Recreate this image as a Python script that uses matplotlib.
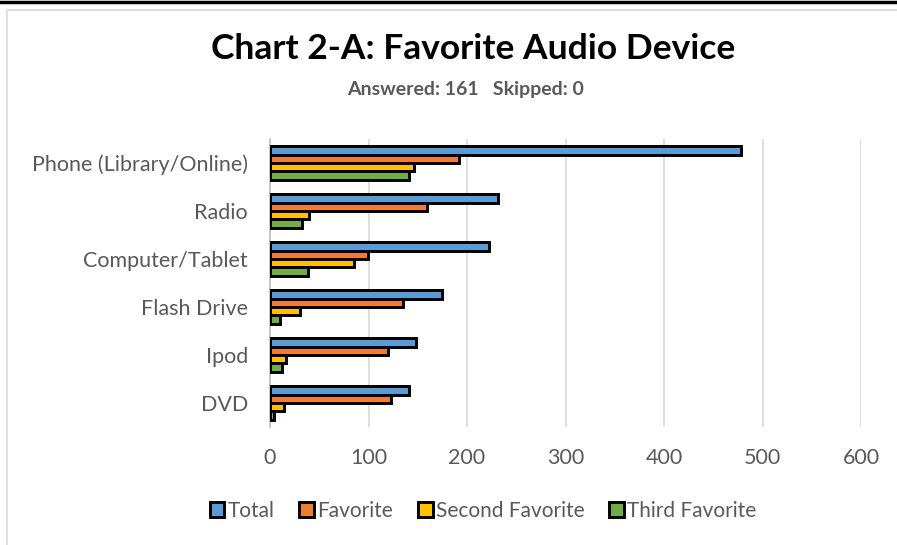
import numpy as np
import matplotlib
matplotlib.use('Agg')
import matplotlib.pyplot as plt
from matplotlib.patches import Rectangle
from matplotlib.lines import Line2D

plt.rcParams['font.family'] = ['Lato', 'DejaVu Sans']

# data
devices = ['Phone (Library/Online)', 'Radio', 'Computer/Tablet', 'Flash Drive', 'Ipod', 'DVD']
total = [478, 231, 222, 175, 148, 141]
favorite = [192, 159, 99, 135, 120, 123]
second = [146, 40, 85, 30, 16, 14]
third = [141, 32, 39, 10, 12, 4]
series_names = ['Total', 'Favorite', 'Second Favorite', 'Third Favorite']
colors = ['#5B9BD5', '#ED7D31', '#FFC000', '#70AD47']
x_ticks = [0, 100, 200, 300, 400, 500, 600]

W, H = 897, 545
fig = plt.figure(figsize=(W / 100, H / 100), dpi=100)

# frame decorations
fig.add_artist(Line2D([0, 1], [1 - 1.5 / H, 1 - 1.5 / H], color='black', lw=2.5,
                      transform=fig.transFigure))
fig.add_artist(Rectangle((6.5 / W, -0.05), 1.1, 1 - 9.5 / H + 0.05, fill=False,
                         edgecolor='#D9D9D9', lw=1.2, transform=fig.transFigure))

ax = fig.add_axes([270 / W, 1 - 427 / H, (861 - 270) / W, (427 - 139) / H])

y = np.arange(len(devices))
bh = 0.177
offsets = np.array([-1.5, -0.5, 0.5, 1.5]) * bh
for vals, name, c, off in zip([total, favorite, second, third], series_names, colors, offsets):
    ax.barh(y + off, vals, height=bh, color=c, edgecolor='black', linewidth=2.1,
            label=name, zorder=3)

ax.set_ylim(len(devices) - 0.5, -0.5)
ax.set_xlim(0, 600)
ax.set_xticks(x_ticks)
ax.set_yticks(y)
ax.set_yticklabels(devices)
ax.tick_params(axis='both', length=0, labelsize=15.5, labelcolor='#595959')
ax.tick_params(axis='x', pad=15)
ax.tick_params(axis='y', pad=16)
ax.grid(axis='x', color='#D9D9D9', lw=1.2, zorder=0)
for s in ['top', 'right', 'bottom']:
    ax.spines[s].set_visible(False)
ax.spines['left'].set_color('#BFBFBF')
ax.spines['left'].set_linewidth(1.2)

fig.text(473 / W, 1 - 49 / H, 'Chart 2-A: Favorite Audio Device', ha='center', va='center',
         fontsize=25.5, fontweight='bold', color='black')
fig.text(466 / W, 1 - 90 / H, 'Answered: 161   Skipped: 0', ha='center', va='center',
         fontsize=14, fontweight='bold', color='#595959')

handles = [Rectangle((0, 0), 1, 1, facecolor=c, edgecolor='black', lw=2.1) for c in colors]
leg = fig.legend(handles, series_names, loc='center', bbox_to_anchor=(483 / W, 1 - 511 / H),
                 ncol=4, frameon=False, fontsize=15, handlelength=0.7, handleheight=0.7,
                 handletextpad=0.15, columnspacing=1.2)
for t in leg.get_texts():
    t.set_color('#595959')

fig.savefig('out.png', dpi=100)
